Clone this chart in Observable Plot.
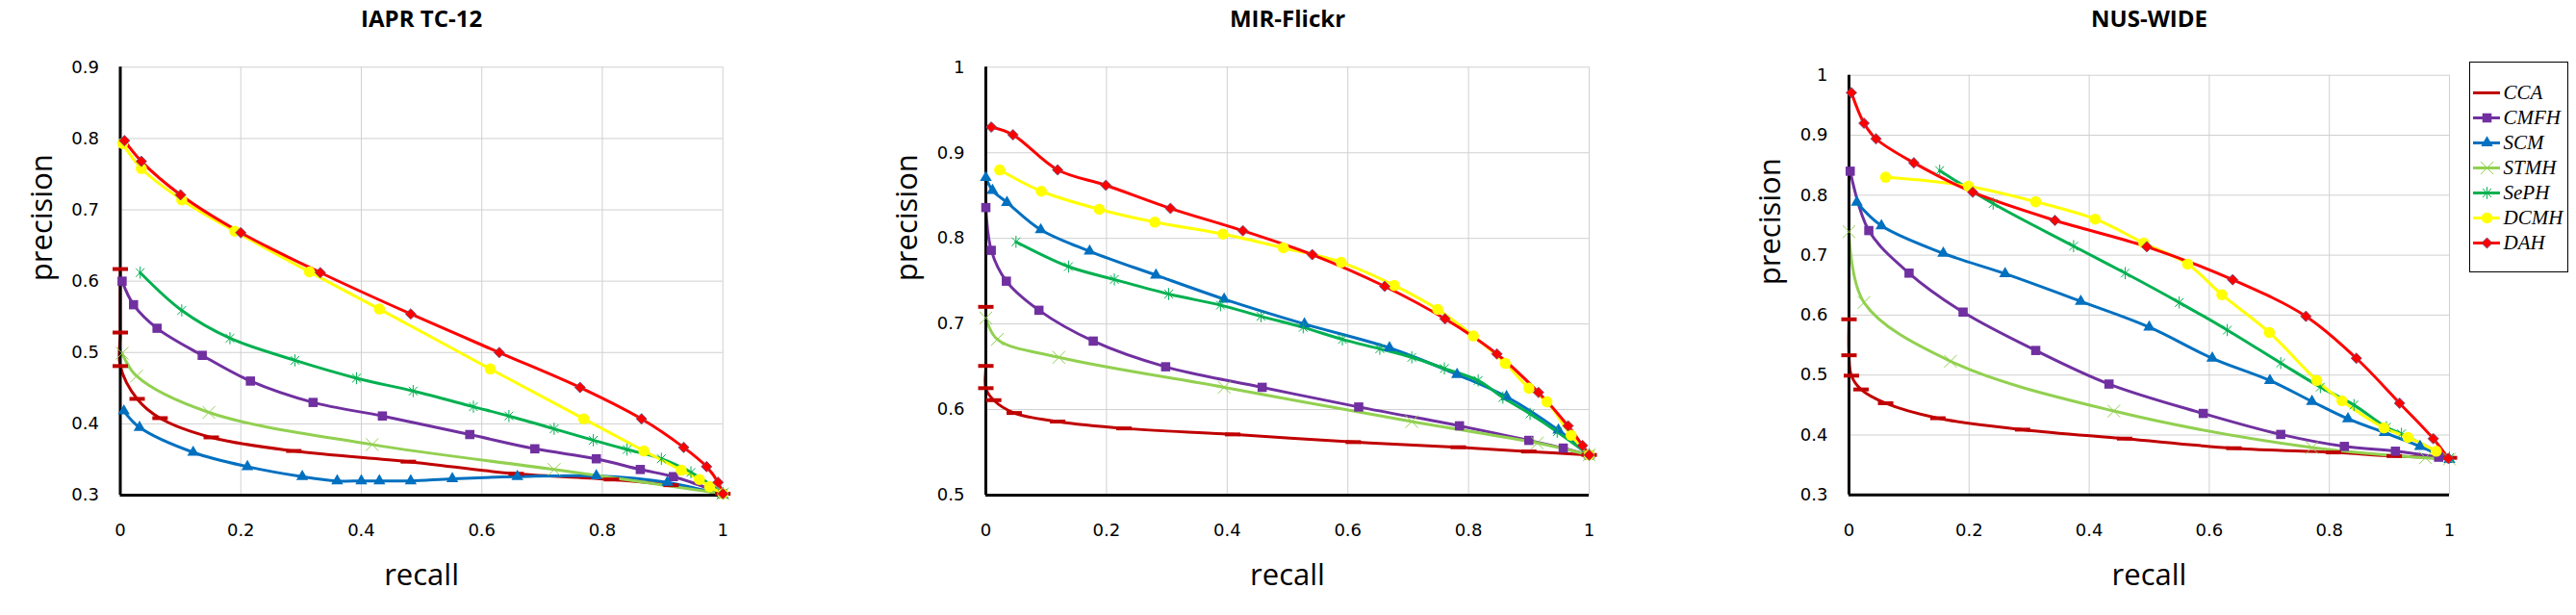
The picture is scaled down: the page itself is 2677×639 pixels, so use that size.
<!DOCTYPE html>
<html><head><meta charset="utf-8">
<script src="https://cdn.jsdelivr.net/npm/d3@7"></script>
<script src="https://cdn.jsdelivr.net/npm/@observablehq/plot@0.6"></script>
<style>
body{margin:0;background:#fff}
#root{position:relative;width:2677px;height:639px;overflow:hidden;background:#fff}
.panel{position:absolute;top:0}
#legend{position:absolute;left:2565.7px;top:64.3px;width:103px;height:219px;box-sizing:border-box;border:1.3px solid #000;background:#fff}
</style></head><body><div id="root"></div>
<script>
// ---------- data: [recall, precision] ----------
const seriesNames  = ["CCA","CMFH","SCM","STMH","SePH","DCMH","DAH"];
const seriesColors = ["#C00000","#7030A0","#0070C0","#92D050","#00B050","#FFFF00","#FF0000"];
const xTicks = [0,0.2,0.4,0.6,0.8,1];
const iaprYTicks = [0.3,0.4,0.5,0.6,0.7,0.8,0.9];
const mirYTicks  = [0.5,0.6,0.7,0.8,0.9,1];
const nusYTicks  = [0.3,0.4,0.5,0.6,0.7,0.8,0.9,1];

// IAPR TC-12
const iaprCCA  = [[0,0.617],[0,0.528],[0,0.481],[0.028,0.435],[0.066,0.408],[0.151,0.381],[0.288,0.362],[0.478,0.347],[0.657,0.330],[0.815,0.322],[0.914,0.314],[1.0,0.302]];
const iaprCMFH = [[0.003,0.600],[0.022,0.567],[0.061,0.534],[0.136,0.496],[0.216,0.460],[0.32,0.430],[0.435,0.411],[0.580,0.385],[0.688,0.365],[0.790,0.351],[0.863,0.336],[0.918,0.326],[1.0,0.302]];
const iaprSCM  = [[0.006,0.418],[0.032,0.395],[0.121,0.360],[0.211,0.340],[0.302,0.326],[0.36,0.320],[0.40,0.320],[0.43,0.320],[0.482,0.320],[0.551,0.323],[0.659,0.326],[0.79,0.327],[0.908,0.318],[1.0,0.300]];
const iaprSTMH = [[0.003,0.499],[0.027,0.467],[0.147,0.416],[0.418,0.371],[0.72,0.336],[1.0,0.302]];
const iaprSePH = [[0.033,0.612],[0.102,0.559],[0.182,0.520],[0.29,0.489],[0.392,0.464],[0.486,0.446],[0.586,0.424],[0.645,0.411],[0.72,0.393],[0.785,0.377],[0.841,0.364],[0.898,0.351],[0.947,0.332],[1.0,0.303]];
const iaprDCMH = [[0.004,0.793],[0.035,0.758],[0.102,0.714],[0.19,0.670],[0.314,0.613],[0.430,0.561],[0.614,0.477],[0.769,0.407],[0.869,0.362],[0.931,0.335],[0.961,0.322],[0.978,0.312],[1.0,0.302]];
const iaprDAH  = [[0.007,0.797],[0.035,0.768],[0.1,0.721],[0.2,0.668],[0.332,0.612],[0.482,0.554],[0.629,0.500],[0.763,0.451],[0.865,0.407],[0.935,0.367],[0.973,0.340],[0.992,0.318],[1.0,0.302]];

// MIR-Flickr
const mirCCA  = [[0,0.720],[0,0.651],[0,0.625],[0.013,0.611],[0.047,0.596],[0.119,0.586],[0.229,0.578],[0.409,0.571],[0.609,0.562],[0.783,0.556],[0.9,0.551],[1.0,0.547]];
const mirCMFH = [[0,0.836],[0.009,0.786],[0.034,0.750],[0.088,0.716],[0.178,0.680],[0.298,0.650],[0.458,0.626],[0.618,0.603],[0.785,0.581],[0.9,0.564],[0.957,0.555],[1.0,0.547]];
const mirSCM  = [[0,0.871],[0.011,0.856],[0.035,0.842],[0.091,0.810],[0.172,0.785],[0.282,0.757],[0.395,0.729],[0.528,0.700],[0.669,0.672],[0.781,0.641],[0.863,0.615],[0.949,0.576],[1.0,0.547]];
const mirSTMH = [[0,0.707],[0.019,0.682],[0.121,0.661],[0.395,0.626],[0.706,0.586],[0.914,0.561],[1.0,0.547]];
const mirSePH = [[0.05,0.796],[0.137,0.767],[0.213,0.752],[0.303,0.735],[0.389,0.722],[0.456,0.709],[0.526,0.696],[0.591,0.682],[0.653,0.671],[0.706,0.661],[0.76,0.648],[0.816,0.634],[0.857,0.614],[0.902,0.595],[0.947,0.574],[1.0,0.547]];
const mirDCMH = [[0.023,0.880],[0.092,0.855],[0.188,0.834],[0.28,0.819],[0.393,0.805],[0.493,0.789],[0.589,0.772],[0.677,0.745],[0.749,0.717],[0.808,0.686],[0.861,0.654],[0.90,0.625],[0.93,0.609],[0.97,0.57],[1.0,0.547]];
const mirDAH  = [[0.009,0.930],[0.045,0.921],[0.119,0.880],[0.199,0.862],[0.306,0.835],[0.426,0.809],[0.541,0.781],[0.661,0.744],[0.761,0.706],[0.847,0.665],[0.916,0.620],[0.965,0.581],[0.989,0.558],[1.0,0.547]];

// NUS-WIDE
const nusCCA  = [[0,0.593],[0,0.533],[0.004,0.499],[0.02,0.476],[0.061,0.453],[0.148,0.428],[0.289,0.409],[0.459,0.394],[0.641,0.378],[0.807,0.371],[0.908,0.365],[1.0,0.362]];
const nusCMFH = [[0.002,0.840],[0.033,0.741],[0.10,0.670],[0.19,0.605],[0.311,0.541],[0.433,0.485],[0.59,0.436],[0.719,0.401],[0.825,0.381],[0.91,0.373],[0.982,0.363]];
const nusSCM  = [[0.013,0.788],[0.054,0.749],[0.157,0.703],[0.26,0.669],[0.386,0.623],[0.50,0.580],[0.605,0.528],[0.701,0.491],[0.771,0.456],[0.831,0.427],[0.892,0.404],[0.951,0.381],[1.0,0.359]];
const nusSTMH = [[0,0.739],[0.025,0.621],[0.169,0.523],[0.441,0.440],[0.771,0.379],[0.96,0.362],[1.0,0.360]];
const nusSePH = [[0.151,0.841],[0.24,0.786],[0.374,0.715],[0.46,0.670],[0.55,0.621],[0.63,0.575],[0.719,0.520],[0.785,0.480],[0.841,0.450],[0.895,0.413],[0.92,0.402],[1.0,0.362]];
const nusDCMH = [[0.061,0.830],[0.199,0.815],[0.311,0.789],[0.41,0.760],[0.491,0.720],[0.564,0.685],[0.621,0.634],[0.70,0.571],[0.779,0.491],[0.821,0.457],[0.891,0.412],[0.931,0.396],[0.978,0.373]];
const nusDAH  = [[0.004,0.971],[0.025,0.920],[0.045,0.894],[0.108,0.854],[0.206,0.805],[0.343,0.758],[0.496,0.714],[0.639,0.659],[0.761,0.598],[0.845,0.528],[0.917,0.453],[0.973,0.394],[0.998,0.361]];

// ---------- styling ----------
const dashSymbol = {draw(ctx){ ctx.rect(-8,-2,16,4); }};
const asteriskSymbol = {draw(ctx,size){
  const r = Math.sqrt(size/Math.PI), d = r*0.7071;
  ctx.moveTo(0,-r); ctx.lineTo(0,r);
  ctx.moveTo(-d,-d); ctx.lineTo(d,d);
  ctx.moveTo(-d,d); ctx.lineTo(d,-d);
}};
function markerOpts(name, color){
  switch(name){
    case "CCA":  return {symbol:dashSymbol, r:5, fill:color, stroke:"none"};
    case "CMFH": return {symbol:"square", r:5.4, fill:color, stroke:"none"};
    case "SCM":  return {symbol:"triangle", r:4.6, fill:color, stroke:"none"};
    case "STMH": return {symbol:"times", r:6, fill:"none", stroke:color, strokeWidth:1};
    case "SePH": return {symbol:asteriskSymbol, r:6.3, fill:"none", stroke:color, strokeWidth:1};
    case "DCMH": return {symbol:"circle", r:5.8, fill:color, stroke:"none"};
    case "DAH":  return {symbol:"diamond2", r:5, fill:color, stroke:"#5a5a8a", strokeWidth:0.8};
  }
}

const FONT_TICK = "DejaVu Sans, Verdana, sans-serif";
const FONT_LAB  = "Open Sans, Roboto, sans-serif";

function makePanel(cfg){
  const marks = [
    Plot.gridX({ticks:xTicks, stroke:"#d0d0d0", strokeOpacity:1, strokeWidth:1}),
    Plot.gridY({ticks:cfg.yTicks, stroke:"#d0d0d0", strokeOpacity:1, strokeWidth:1}),
    Plot.axisX({ticks:xTicks, tickSize:0, tickPadding:30, fontSize:18, fontFamily:FONT_TICK, label:null, tickFormat:d=>String(d)}),
    Plot.axisY({ticks:cfg.yTicks, tickSize:0, tickPadding:22, fontSize:18, fontFamily:FONT_TICK, label:null, tickFormat:d=>String(d)}),
    Plot.text([cfg.title], {frameAnchor:"top", dy:-(cfg.mt-20), fontWeight:"bold", fontSize:24, fontFamily:FONT_LAB, lineAnchor:"middle"}),
    Plot.text(["recall"], {frameAnchor:"bottom", dy:84, fontSize:31, fontFamily:FONT_LAB, lineAnchor:"middle"}),
    Plot.text(["precision"], {frameAnchor:"left", dx:-81, rotate:-90, fontSize:31, fontFamily:FONT_LAB, lineAnchor:"middle"})
  ];
  cfg.series.forEach((data,i)=>{
    const name = seriesNames[i], color = seriesColors[i];
    marks.push(Plot.line(data, {x:d=>d[0], y:d=>d[1], stroke:color, strokeWidth:3, curve:"catmull-rom"}));
  });
  marks.push(Plot.ruleX([0], {stroke:"#000", strokeWidth:3}));
  marks.push(Plot.ruleY([cfg.yTicks[0]], {stroke:"#000", strokeWidth:3}));
  cfg.series.forEach((data,i)=>{
    const name = seriesNames[i], color = seriesColors[i];
    marks.push(Plot.dot(data, {x:d=>d[0], y:d=>d[1], ...markerOpts(name,color)}));
  });
  const svg = Plot.plot({
    width:cfg.width, height:639,
    marginLeft:cfg.ml, marginRight:cfg.width-cfg.ml-cfg.pw, marginTop:cfg.mt, marginBottom:639-cfg.mt-cfg.ph,
    x:{domain:[0,1]}, y:{domain:[cfg.yTicks[0], cfg.yTicks[cfg.yTicks.length-1]]},
    style:{overflow:"visible", background:"transparent", color:"#000"},
    marks
  });
  const div = document.createElement("div");
  div.className = "panel";
  div.style.left = cfg.left + "px";
  div.appendChild(svg);
  document.getElementById("root").appendChild(div);
}

makePanel({title:"IAPR TC-12", left:0, width:890, ml:124.5, pw:626.2, mt:69.3, ph:444.7, yTicks:iaprYTicks,
  series:[iaprCCA,iaprCMFH,iaprSCM,iaprSTMH,iaprSePH,iaprDCMH,iaprDAH]});
makePanel({title:"MIR-Flickr", left:890, width:895, ml:134, pw:627, mt:69.3, ph:444.7, yTicks:mirYTicks,
  series:[mirCCA,mirCMFH,mirSCM,mirSTMH,mirSePH,mirDCMH,mirDAH]});
makePanel({title:"NUS-WIDE", left:1785, width:892, ml:136, pw:624, mt:77.7, ph:436.1, yTicks:nusYTicks,
  series:[nusCCA,nusCMFH,nusSCM,nusSTMH,nusSePH,nusDCMH,nusDAH]});

// ---------- legend ----------
(function(){
  const marks = [];
  seriesNames.forEach((name,i)=>{
    const color = seriesColors[i];
    marks.push(Plot.ruleY([name], {y:d=>d, x1:0, x2:1, stroke:color, strokeWidth:3}));
    if (name !== "CCA") marks.push(Plot.dot([name], {x:()=>0.5, y:d=>d, ...markerOpts(name,color)}));
  });
  marks.push(Plot.text(seriesNames, {x:()=>1, y:d=>d, dx:3, textAnchor:"start", fontSize:21, fontStyle:"italic", fontFamily:"Liberation Serif, Times New Roman, serif", fill:"#000"}));
  const svg = Plot.plot({
    width:101, height:217, marginLeft:3, marginRight:70, marginTop:0, marginBottom:0,
    x:{domain:[0,1], axis:null},
    y:{type:"point", domain:seriesNames, range:[14.5,202.9], axis:null},
    style:{overflow:"visible", background:"transparent"},
    marks
  });
  const div = document.createElement("div");
  div.id = "legend";
  div.appendChild(svg);
  document.getElementById("root").appendChild(div);
})();
</script></body></html>
